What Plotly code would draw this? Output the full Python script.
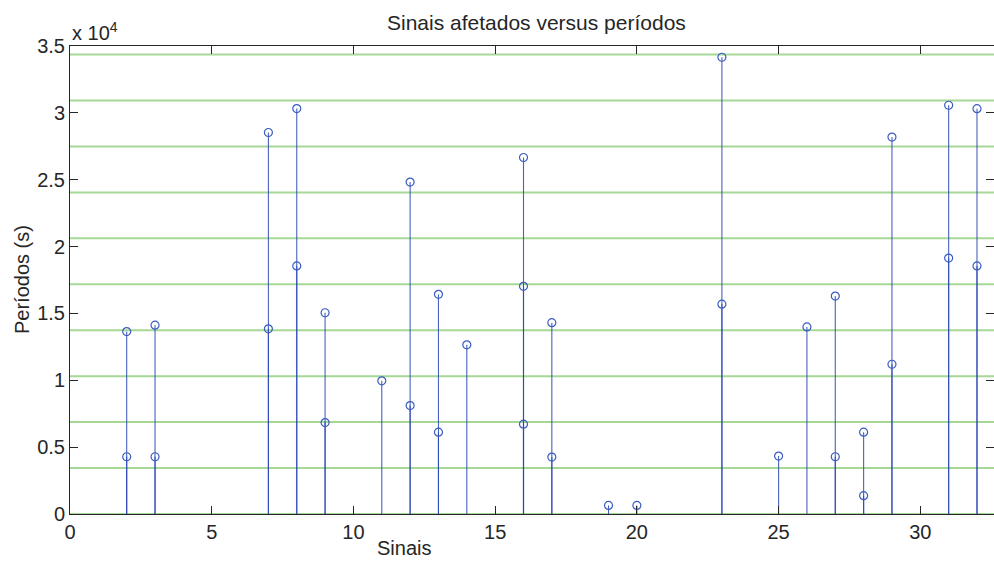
import plotly.graph_objects as go

# Data
sinais = [2, 2, 3, 3, 7, 7, 8, 8, 9, 9, 11, 12, 12, 13, 13, 14, 16, 16, 16, 17, 17,
          19, 20, 23, 23, 25, 26, 27, 27, 28, 28, 29, 29, 31, 31, 32, 32]
periodos = [13640, 4280, 14120, 4280, 28530, 13850, 30320, 18550, 15050, 6840,
            9960, 24820, 8110, 16430, 6120, 12650, 26660, 17030, 6720, 14310, 4260,
            640, 640, 34160, 15690, 4330, 13990, 16300, 4280, 6120, 1370,
            28190, 11200, 30570, 19140, 30310, 18550]
limiares = [0, 3436, 6872, 10308, 13744, 17180, 20616, 24052, 27488, 30924, 34360]
x_ticks = [0, 5, 10, 15, 20, 25, 30]
y_ticks = [0, 5000, 10000, 15000, 20000, 25000, 30000, 35000]
y_ticktext = ["0", "0.5", "1", "1.5", "2", "2.5", "3", "3.5"]

FONT = "Liberation Sans, Arial, sans-serif"
TXT = "#262626"

stem_x, stem_y = [], []
for s, p in zip(sinais, periodos):
    stem_x += [s, s, None]
    stem_y += [0, p, None]

fig = go.Figure()
fig.add_trace(go.Scatter(x=stem_x, y=stem_y, mode="lines",
                         line=dict(color="rgba(40,70,180,0.85)", width=1.1),
                         hoverinfo="skip", showlegend=False))
fig.add_trace(go.Scatter(x=sinais, y=periodos, mode="markers",
                         marker=dict(symbol="circle-open", size=8,
                                     color="#3a5cc0", line=dict(width=1.2)),
                         showlegend=False))

for v in limiares:
    fig.add_shape(type="line", xref="paper", x0=0, x1=1, yref="y", y0=v, y1=v,
                  line=dict(color="#a6d895", width=2), layer="below")

fig.update_layout(
    width=994, height=561, autosize=False,
    margin=dict(l=70, r=0, t=46, b=47),
    plot_bgcolor="white", paper_bgcolor="white",
    font=dict(family=FONT, size=20, color=TXT),
    xaxis=dict(range=[0, 32.6], tickvals=x_ticks, ticks="inside", ticklen=8,
               tickcolor=TXT, mirror="ticks", showline=True, linecolor=TXT,
               linewidth=1, showgrid=False, zeroline=False,
               tickfont=dict(size=20, color=TXT)),
    yaxis=dict(range=[0, 35000], tickvals=y_ticks, ticktext=y_ticktext,
               ticks="inside", ticklen=8, tickcolor=TXT, mirror="ticks",
               showline=True, linecolor=TXT, linewidth=1, showgrid=False,
               zeroline=False, tickfont=dict(size=20, color=TXT)),
    annotations=[
        dict(text="Sinais afetados versus períodos", xref="paper", yref="paper",
             x=0.5046, y=1, xanchor="center", yanchor="middle", yshift=24,
             showarrow=False, font=dict(size=21, color=TXT)),
        dict(text="Sinais", xref="paper", yref="paper", x=0.362, y=0,
             xanchor="center", yanchor="middle", yshift=-34, showarrow=False,
             font=dict(size=20, color=TXT)),
        dict(text="Períodos (s)", xref="paper", yref="paper", x=0, y=0.5,
             xanchor="center", yanchor="middle", xshift=-48, textangle=-90,
             showarrow=False, font=dict(size=20, color=TXT)),
        dict(text="x 10<sup>4</sup>", xref="paper", yref="paper", x=0, y=1,
             xanchor="left", yanchor="bottom", yshift=0, showarrow=False,
             font=dict(size=20, color=TXT)),
    ],
)

fig.write_html("out.html")
